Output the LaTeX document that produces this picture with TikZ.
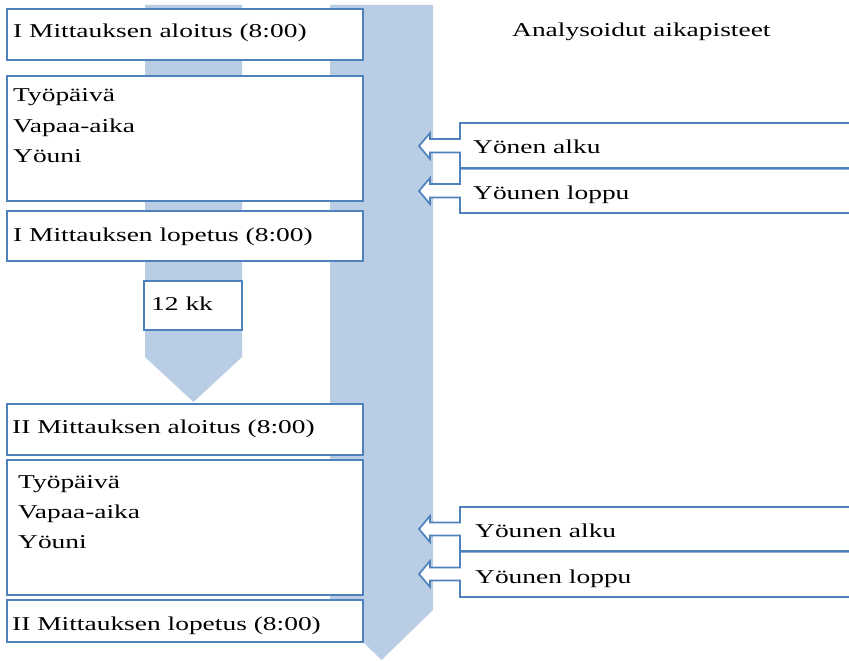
\documentclass[tikz,border=0pt]{standalone}
\usepackage{fontspec}
\setmainfont{Liberation Serif}[FakeStretch=1.4]
\definecolor{barblue}{HTML}{B9CDE5}
\definecolor{lineblue}{HTML}{4F81BD}
\begin{document}
\begin{tikzpicture}[x=1pt,y=-1pt,
  boxframe/.style={draw=lineblue, line width=1.7pt, fill=white},
  lbl/.style={anchor=base west, inner sep=0pt, font=\fontsize{19.6}{24}\selectfont},
  callout/.style={draw=lineblue, line width=1.7pt, fill=white, line join=miter}]
\useasboundingbox (0,0) rectangle (849,661);
% timeline bars
\fill[barblue] (145,5) -- (242,5) -- (242,357) -- (193.5,402) -- (145,357) -- cycle;
\fill[barblue] (330,5) -- (433,5) -- (433,610) -- (381.5,660) -- (330,610) -- cycle;
% left boxes
\draw[boxframe] (7,9) rectangle (363,60);
\draw[boxframe] (7,76) rectangle (363,201);
\draw[boxframe] (7,211) rectangle (363,261);
\draw[boxframe] (144,281) rectangle (242,330);
\draw[boxframe] (7,404) rectangle (363,455);
\draw[boxframe] (7,460) rectangle (363,595);
\draw[boxframe] (7,600) rectangle (363,642);
% left texts
\node[lbl] (m1a) at (13,38) {I Mittauksen aloitus (8:00)};
\node[lbl] (d1a) at (13,102) {Työpäivä};
\node[lbl] (d1b) at (13,132) {Vapaa-aika};
\node[lbl] (d1c) at (13,162) {Yöuni};
\node[lbl] (m1l) at (13,241) {I Mittauksen lopetus (8:00)};
\node[lbl] (kk) at (151,310) {12 kk};
\node[lbl] (m2a) at (12,433) {II Mittauksen aloitus (8:00)};
\node[lbl] (d2a) at (18,488) {Työpäivä};
\node[lbl] (d2b) at (18,518) {Vapaa-aika};
\node[lbl] (d2c) at (18,548) {Yöuni};
\node[lbl] (m2l) at (12,630) {II Mittauksen lopetus (8:00)};
% heading
\node[lbl] (head) at (512,37) {Analysoidut aikapisteet};
% right callout boxes (top pair)
\draw[callout] (856,123) -- (460,123) -- (460,139) -- (430,139) -- (430,133) -- (419,146) -- (430,159) -- (430,152.5) -- (460,152.5) -- (460,168) -- (856,168);
\draw[callout] (856,168.8) -- (460,168.8) -- (460,184) -- (430,184) -- (430,178) -- (419,191) -- (430,204) -- (430,197.5) -- (460,197.5) -- (460,213) -- (856,213);
\node[lbl] (r1) at (473,153) {Yönen alku};
\node[lbl] (r2) at (473,199) {Yöunen loppu};
% right callout boxes (bottom pair)
\draw[callout] (856,507) -- (460,507) -- (460,522.5) -- (430,522.5) -- (430,516) -- (419,529) -- (430,542) -- (430,535.5) -- (460,535.5) -- (460,551) -- (856,551);
\draw[callout] (856,551.8) -- (460,551.8) -- (460,567.5) -- (430,567.5) -- (430,561) -- (419,574) -- (430,587) -- (430,580.5) -- (460,580.5) -- (460,597) -- (856,597);
\node[lbl] (r3) at (475,537) {Yöunen alku};
\node[lbl] (r4) at (475,583) {Yöunen loppu};
\end{tikzpicture}
\end{document}
